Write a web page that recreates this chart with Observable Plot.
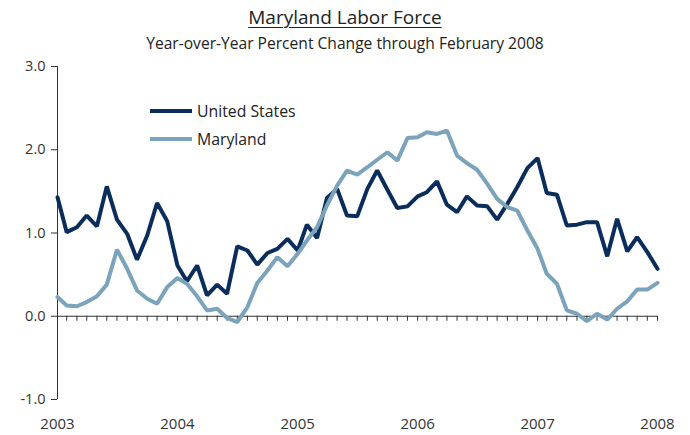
<!DOCTYPE html>
<html>
<head>
<meta charset="utf-8">
<script src="https://cdn.jsdelivr.net/npm/d3@7"></script>
<script src="https://cdn.jsdelivr.net/npm/@observablehq/plot@0.6"></script>
<style>
  html, body { margin: 0; padding: 0; background: #fff; }
  body { width: 690px; height: 435px; position: relative; font-family: "Open Sans", sans-serif; color: #222; }
  #title { position: absolute; left: 0; width: 690px; top: 4px; text-align: center; font-size: 19px; text-decoration: underline; text-underline-offset: 3px; text-decoration-thickness: 1px; }
  #subtitle { position: absolute; left: 0; width: 690px; top: 32px; text-align: center; font-size: 15.6px; color: #222; }
  #chart { position: absolute; left: 0; top: 56px; }
  #legend { position: absolute; left: 150px; top: 97px; font-size: 15.8px; color: #222; }
  .item { display: flex; align-items: center; height: 28px; }
  .sw { display: inline-block; width: 42px; height: 4px; margin-right: 5px; }
</style>
</head>
<body>
<div id="title">Maryland Labor Force</div>
<div id="subtitle">Year-over-Year Percent Change through February 2008</div>
<div id="chart"></div>
<div id="legend"></div>
<script>
// Monthly data, February 2003 through February 2008
const seriesNames = ["United States", "Maryland"];
const seriesColors = ["#0a2d5c", "#7ba3bb"];
const usValues = [1.43,1.01,1.07,1.21,1.08,1.56,1.16,0.99,0.68,0.97,1.36,1.14,
  0.61,0.42,0.61,0.25,0.38,0.27,0.84,0.79,0.62,0.76,0.81,0.93,
  0.79,1.10,0.94,1.42,1.53,1.21,1.20,1.53,1.75,1.52,1.30,1.32,
  1.44,1.49,1.62,1.34,1.25,1.44,1.33,1.32,1.16,1.35,1.55,1.78,
  1.90,1.48,1.46,1.09,1.10,1.13,1.13,0.72,1.17,0.78,0.95,0.77,0.57];
const mdValues = [0.23,0.13,0.12,0.17,0.24,0.38,0.80,0.57,0.31,0.21,0.15,0.35,
  0.46,0.39,0.24,0.07,0.09,-0.02,-0.07,0.11,0.40,0.55,0.71,0.60,
  0.75,0.91,1.07,1.33,1.57,1.75,1.70,1.79,1.88,1.97,1.87,2.14,
  2.15,2.21,2.19,2.23,1.93,1.84,1.76,1.59,1.41,1.31,1.27,1.03,
  0.81,0.51,0.39,0.07,0.03,-0.06,0.03,-0.04,0.09,0.18,0.32,0.32,0.40];
const yTicks = [-1, 0, 1, 2, 3];
const yearLabels = [2003, 2004, 2005, 2006, 2007, 2008];

const months = usValues.map((_, i) => new Date(Date.UTC(2003, 1 + i, 1)));
const yearTicks = yearLabels.map(y => new Date(Date.UTC(y, 1, 1)));

const data = [];
months.forEach((m, i) => {
  data.push({date: m, value: usValues[i], series: seriesNames[0]});
  data.push({date: m, value: mdValues[i], series: seriesNames[1]});
});

const axisColor = "#333";

const chart = Plot.plot({
  width: 690,
  height: 379,
  marginLeft: 57,
  marginRight: 33,
  marginTop: 10,
  marginBottom: 36,
  style: {fontFamily: "Open Sans, sans-serif", color: "#333", background: "#fff"},
  x: {type: "utc", domain: [months[0], months[months.length - 1]]},
  y: {domain: [-1, 3]},
  color: {domain: seriesNames, range: seriesColors},
  marks: [
    Plot.axisY({ticks: yTicks, tickFormat: d => d.toFixed(1), tickSize: 6, tickPadding: 6, fontSize: 14.5, stroke: axisColor, color: "#333", label: null}),
    Plot.axisX({ticks: yearTicks, tickFormat: d => String(d.getUTCFullYear()), tickSize: 0, tickPadding: 19, fontSize: 15, label: null}),
    Plot.ruleX([months[0]], {y1: -1, y2: 3, stroke: axisColor, strokeWidth: 1}),
    Plot.ruleY([0], {stroke: axisColor, strokeWidth: 1}),
    Plot.ruleX(months, {x: d => d, y1: 0, y2: 0, insetBottom: -5, stroke: axisColor, strokeWidth: 1}),
    Plot.line(data, {x: "date", y: "value", z: "series", stroke: "series", strokeWidth: 4, strokeLinejoin: "miter", curve: "linear"})
  ]
});
document.getElementById("chart").appendChild(chart);

const legend = document.getElementById("legend");
seriesNames.forEach((name, i) => {
  const item = document.createElement("div");
  item.className = "item";
  const sw = document.createElement("span");
  sw.className = "sw";
  sw.style.background = seriesColors[i];
  item.appendChild(sw);
  item.appendChild(document.createTextNode(name));
  legend.appendChild(item);
});
</script>
</body>
</html>
